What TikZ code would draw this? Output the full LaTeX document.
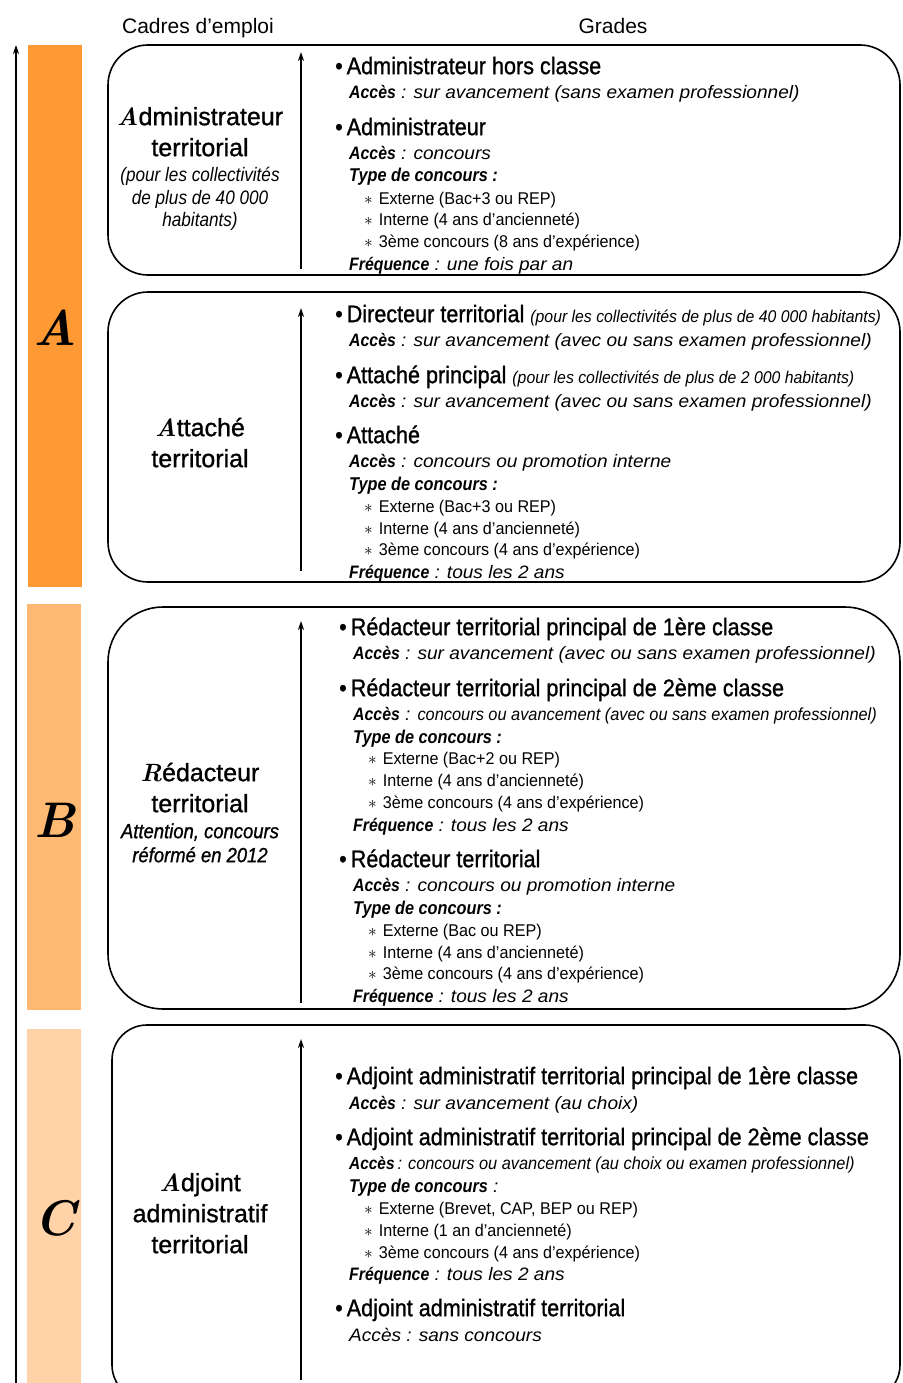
\documentclass[tikz,border=0pt]{standalone}
\usepackage{fontspec}
\usetikzlibrary{arrows.meta}
\newfontfamily\lsans{Liberation Sans}
\newfontfamily\lwide[FakeStretch=1.06]{Liberation Sans}
\newfontfamily\lcond[FakeStretch=0.88]{Liberation Sans}
\newfontfamily\lmed[FakeStretch=0.9,FakeBold=1]{Liberation Sans}
\newfontfamily\lleft[FakeBold=1]{Liberation Sans}
\newfontfamily\lsubf[FakeStretch=0.95]{Liberation Sans}
\newfontfamily\lparen[FakeStretch=0.93]{Liberation Sans}
\newfontfamily\lnarrow[FakeStretch=0.935]{Liberation Sans}
\definecolor{barA}{HTML}{FF9933}
\definecolor{barB}{HTML}{FFB973}
\definecolor{barC}{HTML}{FFD3A7}
\newcommand{\brsh}[1]{{\rmfamily\bfseries\itshape #1}}
\newcommand{\acc}{{\lcond\bfseries\itshape\fontsize{18}{20}\selectfont Accès}}
\tikzset{
  hdr/.style={anchor=mid, inner sep=0pt, yshift=-5pt, font=\lsans\fontsize{21}{24}\selectfont},
  ttl/.style={anchor=mid west, inner sep=0pt, yshift=-5pt, font=\lmed\fontsize{24}{26}\selectfont},
  accl/.style={anchor=mid west, inner sep=0pt, yshift=-4pt, font=\lwide\itshape\fontsize{18}{20}\selectfont},
  subl/.style={anchor=mid west, inner sep=0pt, yshift=-4pt, font=\lsubf\fontsize{17}{20}\selectfont},
  lft/.style={anchor=mid, inner sep=0pt, yshift=-6pt, font=\lleft\fontsize{25}{30}\selectfont},
  lfti/.style={anchor=mid, inner sep=0pt, yshift=-5pt, font=\lcond\itshape\fontsize{19.5}{22}\selectfont},
  lftib/.style={anchor=mid, inner sep=0pt, yshift=-5pt, font=\lmed\itshape\fontsize{20.5}{22}\selectfont},
  barletter/.style={anchor=center, inner sep=0pt, font=\rmfamily\bfseries\itshape\fontsize{50}{50}\selectfont},
  card/.style={draw=black, line width=1.6pt},
  uparrow/.style={line width=1.5pt, -{Stealth[length=9pt,width=6pt]}},
}
\newcommand{\sub}[1]{$\ast$\hspace{6pt}#1}
\newcommand{\typ}{{\lcond\bfseries\itshape\fontsize{18.5}{20}\selectfont Type de concours :}}
\newcommand{\frq}{{\lcond\bfseries\itshape\fontsize{18}{20}\selectfont Fréquence}}
\newcommand{\paren}[1]{{\lparen\itshape\fontsize{17}{18}\selectfont #1}}
\newcommand{\narr}[1]{{\lnarrow\itshape\fontsize{17.5}{18}\selectfont #1}}
\begin{document}
\begin{tikzpicture}[x=1pt,y=-1pt]
\clip (0,0) rectangle (902,1383);
\fill[white] (0,0) rectangle (902,1383);

% headers
\node[hdr] (hcadres) at (198,26) {Cadres d’emploi};
\node[hdr] (hgrades) at (613,26) {Grades};

% main arrow
\coordinate (mainlo) at (16,1390);
\coordinate (mainhi) at (16,45);
\draw[uparrow] (mainlo) -- (mainhi);

% bars
\fill[barA] (28,45) rectangle (82,587);
\fill[barB] (27,604) rectangle (81,1010);
\fill[barC] (27,1029) rectangle (81,1390);
\node[barletter] (lA) at (55,328) {A};
\node[barletter] (lB) at (55,820) {B};
\node[barletter] (lC) at (55,1218) {C};

% cards
\draw[card, rounded corners=40pt] (108,45) rectangle (900,275);
\draw[card, rounded corners=40pt] (108,292) rectangle (900,582);
\draw[card, rounded corners=55pt] (108,607) rectangle (900,1009);
\draw[card, rounded corners=35pt] (112,1025) rectangle (900,1400);

% inner arrows
\coordinate (i1lo) at (301,269); \coordinate (i1hi) at (301,52);
\coordinate (i2lo) at (301,571); \coordinate (i2hi) at (301,308);
\coordinate (i3lo) at (301,1003); \coordinate (i3hi) at (301,621);
\coordinate (i4lo) at (301,1380); \coordinate (i4hi) at (301,1039);
\draw[uparrow] (i1lo) -- (i1hi);
\draw[uparrow] (i2lo) -- (i2hi);
\draw[uparrow] (i3lo) -- (i3hi);
\draw[uparrow] (i4lo) -- (i4hi);

% left column
\node[lft] (c1a) at (200,117) {\brsh{A}dministrateur};
\node[lft] (c1b) at (200,148) {territorial};
\node[lfti] (c1c) at (200,174) {(pour les collectivités};
\node[lfti] (c1d) at (200,197) {de plus de 40 000};
\node[lfti] (c1e) at (200,219) {habitants)};

\node[lft] (c2a) at (200,428) {\brsh{A}ttaché};
\node[lft] (c2b) at (200,459) {territorial};

\node[lft] (c3a) at (200,773) {\brsh{R}édacteur};
\node[lft] (c3b) at (200,804) {territorial};
\node[lftib] (c3c) at (200,831) {Attention, concours};
\node[lftib] (c3d) at (200,855) {réformé en 2012};

\node[lft] (c4a) at (200,1183) {\brsh{A}djoint};
\node[lft] (c4b) at (200,1214) {administratif};
\node[lft] (c4c) at (200,1245) {territorial};

% box 1
\node[ttl] (t1a) at (335,67) {•\,Administrateur hors classe};
\node[accl] (a1a) at (349,92) {\acc\ : sur avancement (sans examen professionnel)};
\node[ttl] (t1b) at (335,128) {•\,Administrateur};
\node[accl] (a1b) at (349,153) {\acc\ : concours};
\node[accl] (y1b) at (349,175) {\typ};
\node[subl] (s1b1) at (364,198) {\sub{Externe (Bac+3 ou REP)}};
\node[subl] (s1b2) at (364,219) {\sub{Interne (4 ans d’ancienneté)}};
\node[subl] (s1b3) at (364,241) {\sub{3ème concours (8 ans d’expérience)}};
\node[accl] (f1b) at (349,264) {\frq\ : une fois par an};

% box 2
\node[ttl] (t2a) at (335,315) {•\,Directeur territorial \paren{(pour les collectivités de plus de 40 000 habitants)}};
\node[accl] (a2a) at (349,340) {\acc\ : sur avancement (avec ou sans examen professionnel)};
\node[ttl] (t2b) at (335,376) {•\,Attaché principal \paren{(pour les collectivités de plus de 2 000 habitants)}};
\node[accl] (a2b) at (349,401) {\acc\ : sur avancement (avec ou sans examen professionnel)};
\node[ttl] (t2c) at (335,436) {•\,Attaché};
\node[accl] (a2c) at (349,461) {\acc\ : concours ou promotion interne};
\node[accl] (y2c) at (349,484) {\typ};
\node[subl] (s2c1) at (364,506) {\sub{Externe (Bac+3 ou REP)}};
\node[subl] (s2c2) at (364,528) {\sub{Interne (4 ans d’ancienneté)}};
\node[subl] (s2c3) at (364,549) {\sub{3ème concours (4 ans d’expérience)}};
\node[accl] (f2c) at (349,572) {\frq\ : tous les 2 ans};

% box 3
\node[ttl] (t3a) at (339,628) {•\,Rédacteur territorial principal de 1ère classe};
\node[accl] (a3a) at (353,653) {\acc\ : sur avancement (avec ou sans examen professionnel)};
\node[ttl] (t3b) at (339,689) {•\,Rédacteur territorial principal de 2ème classe};
\node[accl] (a3b) at (353,714) {\acc\ : \narr{concours ou avancement (avec ou sans examen professionnel)}};
\node[accl] (y3b) at (353,737) {\typ};
\node[subl] (s3b1) at (368,758) {\sub{Externe (Bac+2 ou REP)}};
\node[subl] (s3b2) at (368,780) {\sub{Interne (4 ans d’ancienneté)}};
\node[subl] (s3b3) at (368,802) {\sub{3ème concours (4 ans d’expérience)}};
\node[accl] (f3b) at (353,825) {\frq\ : tous les 2 ans};
\node[ttl] (t3c) at (339,860) {•\,Rédacteur territorial};
\node[accl] (a3c) at (353,885) {\acc\ : concours ou promotion interne};
\node[accl] (y3c) at (353,908) {\typ};
\node[subl] (s3c1) at (368,930) {\sub{Externe (Bac ou REP)}};
\node[subl] (s3c2) at (368,952) {\sub{Interne (4 ans d’ancienneté)}};
\node[subl] (s3c3) at (368,973) {\sub{3ème concours (4 ans d’expérience)}};
\node[accl] (f3c) at (353,996) {\frq\ : tous les 2 ans};

% box 4
\node[ttl] (t4a) at (335,1077) {•\,Adjoint administratif territorial principal de 1ère classe};
\node[accl] (a4a) at (349,1103) {\acc\ : sur avancement (au choix)};
\node[ttl] (t4b) at (335,1138) {•\,Adjoint administratif territorial principal de 2ème classe};
\node[accl] (a4b) at (349,1163) {{\lcond\bfseries\itshape\fontsize{17.5}{20}\selectfont Accès}\narr{\,: concours ou avancement (au choix ou examen professionnel)}};
\node[accl] (y4b) at (349,1186) {{\lcond\bfseries\itshape\fontsize{18.5}{20}\selectfont Type de concours} :};
\node[subl] (s4b1) at (364,1208) {\sub{Externe (Brevet, CAP, BEP ou REP)}};
\node[subl] (s4b2) at (364,1230) {\sub{Interne (1 an d’ancienneté)}};
\node[subl] (s4b3) at (364,1252) {\sub{3ème concours (4 ans d’expérience)}};
\node[accl] (f4b) at (349,1274) {\frq\ : tous les 2 ans};
\node[ttl] (t4c) at (335,1309) {•\,Adjoint administratif territorial};
\node[accl] (a4c) at (349,1335) {Accès : sans concours};
\end{tikzpicture}
\end{document}
